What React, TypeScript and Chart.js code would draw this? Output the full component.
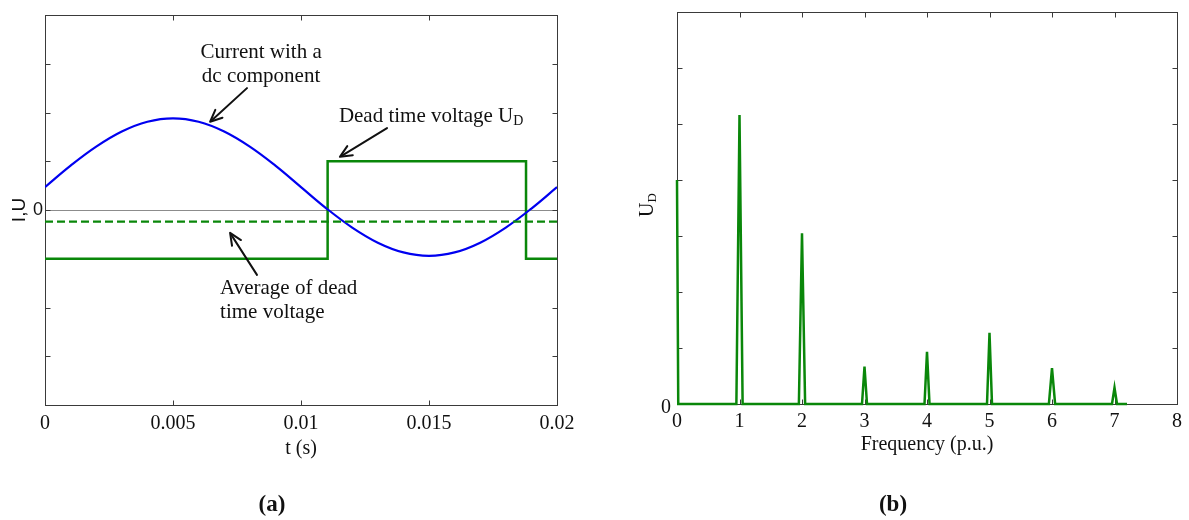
import React, { useEffect, useRef } from 'react';
import { Chart, registerables } from 'chart.js';

Chart.register(...registerables);

// ---------- Panel (a): time domain ----------
const timeS = [0, 0.001, 0.002, 0.003, 0.004, 0.005, 0.006, 0.007, 0.008, 0.009, 0.01,
  0.011, 0.012, 0.013, 0.014, 0.015, 0.016, 0.017, 0.018, 0.019, 0.02];
const currentI = [0.47, 0.91, 1.3, 1.61, 1.81, 1.88, 1.81, 1.61, 1.3, 0.91, 0.47,
  0.03, -0.36, -0.67, -0.87, -0.94, -0.87, -0.67, -0.36, 0.03, 0.47];
const deadTimeT = [0, 0.01104, 0.01104, 0.01879, 0.01879, 0.02];
const deadTimeU = [-1, -1, 1, 1, -1, -1];
const averageT = [0, 0.02];
const averageU = [-0.24, -0.24];
const timeTicks = [0, 0.005, 0.01, 0.015, 0.02];
const timeTickLabels = ['0', '0.005', '0.01', '0.015', '0.02'];
const leftYTicks = [-4, -3, -2, -1, 0, 1, 2, 3, 4];

// ---------- Panel (b): spectrum ----------
const freqPU = [0, 0.02, 0.95, 1.0, 1.05, 1.95, 2.0, 2.05, 2.96, 3.0, 3.04, 3.96, 4.0, 4.04,
  4.96, 5.0, 5.04, 5.95, 6.0, 6.05, 6.96, 7.0, 7.04, 7.2];
const spectrumUD = [4.0, 0, 0, 5.16, 0, 0, 3.05, 0, 0, 0.67, 0, 0, 0.93, 0,
  0, 1.27, 0, 0, 0.64, 0, 0, 0.29, 0, 0];
const freqTicks = [0, 1, 2, 3, 4, 5, 6, 7, 8];
const freqTickLabels = ['0', '1', '2', '3', '4', '5', '6', '7', '8'];
const rightYTicks = [0, 1, 2, 3, 4, 5, 6, 7];

const SERIF = "'Liberation Serif', 'Times New Roman', serif";
const SANS = "'Liberation Sans', Arial, sans-serif";
const GREEN = '#0a870a';
const BLUE = '#0000f0';
const TEXT = '#111111';

function framePlugin(tickLen: number, color: string) {
  return {
    id: 'frameTicks',
    beforeDatasetsDraw(chart: any) {
      const { ctx, chartArea: a, scales } = chart;
      const xs = scales.x;
      const ys = scales.y;
      ctx.save();
      ctx.strokeStyle = color;
      ctx.lineWidth = 1;
      const L = Math.round(a.left) + 0.5;
      const R = Math.round(a.right) + 0.5;
      const T = Math.round(a.top) + 0.5;
      const B = Math.round(a.bottom) + 0.5;
      ctx.strokeRect(L, T, R - L, B - T);
      ctx.beginPath();
      xs.ticks.forEach((t: any) => {
        const px = Math.round(xs.getPixelForValue(t.value)) + 0.5;
        ctx.moveTo(px, B);
        ctx.lineTo(px, B - tickLen);
        ctx.moveTo(px, T);
        ctx.lineTo(px, T + tickLen);
      });
      ys.ticks.forEach((t: any) => {
        const py = Math.round(ys.getPixelForValue(t.value)) + 0.5;
        ctx.moveTo(L, py);
        ctx.lineTo(L + tickLen, py);
        ctx.moveTo(R, py);
        ctx.lineTo(R - tickLen, py);
      });
      ctx.stroke();
      ctx.restore();
    },
  };
}

function arrow(ctx: CanvasRenderingContext2D, x1: number, y1: number, x2: number, y2: number) {
  const ang = Math.atan2(y2 - y1, x2 - x1);
  const len = 13;
  const spread = 0.42;
  ctx.beginPath();
  ctx.moveTo(x1, y1);
  ctx.lineTo(x2 - Math.cos(ang) * 2, y2 - Math.sin(ang) * 2);
  ctx.stroke();
  ctx.beginPath();
  ctx.moveTo(x2 - len * Math.cos(ang - spread), y2 - len * Math.sin(ang - spread));
  ctx.lineTo(x2, y2);
  ctx.lineTo(x2 - len * Math.cos(ang + spread), y2 - len * Math.sin(ang + spread));
  ctx.stroke();
}

const leftNotes = {
  id: 'leftNotes',
  afterDatasetsDraw(chart: any) {
    const { ctx, scales } = chart;
    const P = (t: number, v: number) => [scales.x.getPixelForValue(t), scales.y.getPixelForValue(v)];
    ctx.save();
    ctx.fillStyle = TEXT;
    ctx.strokeStyle = TEXT;
    ctx.lineWidth = 2;
    ctx.lineCap = 'round';
    ctx.lineJoin = 'round';
    ctx.textBaseline = 'middle';
    ctx.font = `21px ${SERIF}`;
    // Current note
    ctx.textAlign = 'center';
    let p = P(0.00844, 3.24);
    ctx.fillText('Current with a', p[0], p[1]);
    p = P(0.00844, 2.73);
    ctx.fillText('dc component', p[0], p[1]);
    let a = P(0.00789, 2.5);
    let b = P(0.00645, 1.81);
    arrow(ctx, a[0], a[1], b[0], b[1]);
    // Dead time note
    ctx.textAlign = 'left';
    p = P(0.01148, 1.91);
    const main = 'Dead time voltage U';
    ctx.fillText(main, p[0], p[1]);
    const w = ctx.measureText(main).width;
    ctx.font = `14px ${SERIF}`;
    ctx.fillText('D', p[0] + w, p[1] + 4);
    ctx.font = `21px ${SERIF}`;
    a = P(0.01336, 1.68);
    b = P(0.01152, 1.09);
    arrow(ctx, a[0], a[1], b[0], b[1]);
    // Average note
    p = P(0.00684, -1.62);
    ctx.fillText('Average of dead', p[0], p[1]);
    p = P(0.00684, -2.11);
    ctx.fillText('time voltage', p[0], p[1]);
    a = P(0.00828, -1.33);
    b = P(0.00723, -0.47);
    arrow(ctx, a[0], a[1], b[0], b[1]);
    ctx.restore();
  },
  afterDraw(chart: any) {
    const { ctx } = chart;
    ctx.save();
    ctx.fillStyle = TEXT;
    ctx.font = `bold 23px ${SERIF}`;
    ctx.textAlign = 'center';
    ctx.textBaseline = 'middle';
    ctx.fillText('(a)', 272, 505);
    ctx.restore();
  },
};

const rightNotes = {
  id: 'rightNotes',
  afterDraw(chart: any) {
    const { ctx } = chart;
    ctx.save();
    ctx.fillStyle = TEXT;
    // y-axis title U_D
    ctx.translate(53, 217);
    ctx.rotate(-Math.PI / 2);
    ctx.textBaseline = 'alphabetic';
    ctx.textAlign = 'left';
    ctx.font = `20px ${SERIF}`;
    ctx.fillText('U', 0, 0);
    const w = ctx.measureText('U').width;
    ctx.font = `13px ${SERIF}`;
    ctx.fillText('D', w, 3);
    ctx.setTransform(1, 0, 0, 1, 0, 0);
    ctx.font = `bold 23px ${SERIF}`;
    ctx.textAlign = 'center';
    ctx.textBaseline = 'middle';
    ctx.fillText('(b)', 293, 505);
    ctx.restore();
  },
};

function fixVertical(width: number) {
  return (s: any) => {
    s.width = width;
    s.paddingTop = 0;
    s.paddingBottom = 0;
  };
}

export default function App() {
  const leftRef = useRef<HTMLCanvasElement>(null);
  const rightRef = useRef<HTMLCanvasElement>(null);

  useEffect(() => {
    const c1 = new Chart(leftRef.current as HTMLCanvasElement, {
      type: 'scatter',
      data: {
        datasets: [
          {
            label: 'Average of dead time voltage',
            data: averageT.map((t, i) => ({ x: t, y: averageU[i] })),
            showLine: true,
            borderColor: GREEN,
            borderWidth: 2.2,
            borderDash: [8, 4],
            pointRadius: 0,
          },
          {
            label: 'Current with a dc component',
            data: timeS.map((t, i) => ({ x: t, y: currentI[i] })),
            showLine: true,
            borderColor: BLUE,
            borderWidth: 2.2,
            tension: 0.4,
            pointRadius: 0,
          },
          {
            label: 'Dead time voltage',
            data: deadTimeT.map((t, i) => ({ x: t, y: deadTimeU[i] })),
            showLine: true,
            borderColor: GREEN,
            borderWidth: 2.5,
            pointRadius: 0,
          },
        ],
      },
      options: {
        animation: false,
        responsive: false,
        events: [],
        layout: { padding: { left: 0, top: 15, right: 43, bottom: 0 } },
        plugins: { legend: { display: false }, tooltip: { enabled: false }, title: { display: false } },
        scales: {
          x: {
            type: 'linear',
            min: 0,
            max: 0.02,
            afterBuildTicks: (s: any) => { s.ticks = timeTicks.map((v) => ({ value: v })); },
            afterFit: (s: any) => { s.height = 115; },
            border: { display: false },
            grid: { display: false, drawTicks: false },
            ticks: {
              autoSkip: false,
              maxRotation: 0,
              padding: 7,
              color: TEXT,
              font: { family: SERIF, size: 20 },
              callback: (_v: any, i: number) => timeTickLabels[i],
            },
            title: {
              display: true,
              text: 't (s)',
              color: TEXT,
              font: { family: SERIF, size: 20 },
              padding: { top: 0, bottom: 59 },
            },
          },
          y: {
            type: 'linear',
            min: -4,
            max: 4,
            afterBuildTicks: (s: any) => { s.ticks = leftYTicks.map((v) => ({ value: v })); },
            afterFit: fixVertical(45),
            border: { display: false },
            grid: {
              drawTicks: false,
              lineWidth: 1,
              color: (c: any) => (c.tick && c.tick.value === 0 ? '#8c8c8c' : 'rgba(0,0,0,0)'),
            },
            ticks: {
              autoSkip: false,
              padding: 2,
              color: TEXT,
              font: { family: SANS, size: 18 },
              callback: (v: any) => (v === 0 ? '0' : ''),
            },
            title: {
              display: true,
              text: 'I,U',
              color: TEXT,
              font: { family: SANS, size: 19 },
              padding: { top: 8, bottom: 0 },
            },
          },
        },
      } as any,
      plugins: [framePlugin(5, '#3a3a3a'), leftNotes],
    });

    const c2 = new Chart(rightRef.current as HTMLCanvasElement, {
      type: 'scatter',
      data: {
        datasets: [
          {
            label: 'U_D spectrum',
            data: freqPU.map((f, i) => ({ x: f, y: spectrumUD[i] })),
            showLine: true,
            borderColor: GREEN,
            borderWidth: 2.5,
            pointRadius: 0,
            clip: 3,
          },
        ],
      },
      options: {
        animation: false,
        responsive: false,
        events: [],
        layout: { padding: { left: 0, top: 12, right: 12, bottom: 0 } },
        plugins: { legend: { display: false }, tooltip: { enabled: false }, title: { display: false } },
        scales: {
          x: {
            type: 'linear',
            min: 0,
            max: 8,
            afterBuildTicks: (s: any) => { s.ticks = freqTicks.map((v) => ({ value: v })); },
            afterFit: (s: any) => { s.height = 116; },
            border: { display: false },
            grid: { display: false, drawTicks: false },
            ticks: {
              autoSkip: false,
              maxRotation: 0,
              padding: 6,
              color: TEXT,
              font: { family: SERIF, size: 20 },
              callback: (_v: any, i: number) => freqTickLabels[i],
            },
            title: {
              display: true,
              text: 'Frequency (p.u.)',
              color: TEXT,
              font: { family: SERIF, size: 20 },
              padding: { top: 0, bottom: 63 },
            },
          },
          y: {
            type: 'linear',
            min: 0,
            max: 7,
            afterBuildTicks: (s: any) => { s.ticks = rightYTicks.map((v) => ({ value: v })); },
            afterFit: fixVertical(77),
            border: { display: false },
            grid: { display: false, drawTicks: false },
            ticks: {
              autoSkip: false,
              padding: 6,
              labelOffset: 4,
              color: TEXT,
              font: { family: SERIF, size: 20 },
              callback: (v: any) => (v === 0 ? '0' : ''),
            },
            title: { display: false },
          },
        },
      } as any,
      plugins: [framePlugin(5, '#3a3a3a'), rightNotes],
    });

    return () => {
      c1.destroy();
      c2.destroy();
    };
  }, []);

  return (
    <div style={{ position: 'absolute', left: 0, top: 0, width: 1189, height: 520, background: '#ffffff' }}>
      <canvas
        ref={leftRef}
        width={600}
        height={520}
        style={{ position: 'absolute', left: 0, top: 0, width: 600, height: 520 }}
      />
      <canvas
        ref={rightRef}
        width={589}
        height={520}
        style={{ position: 'absolute', left: 600, top: 0, width: 589, height: 520 }}
      />
    </div>
  );
}
